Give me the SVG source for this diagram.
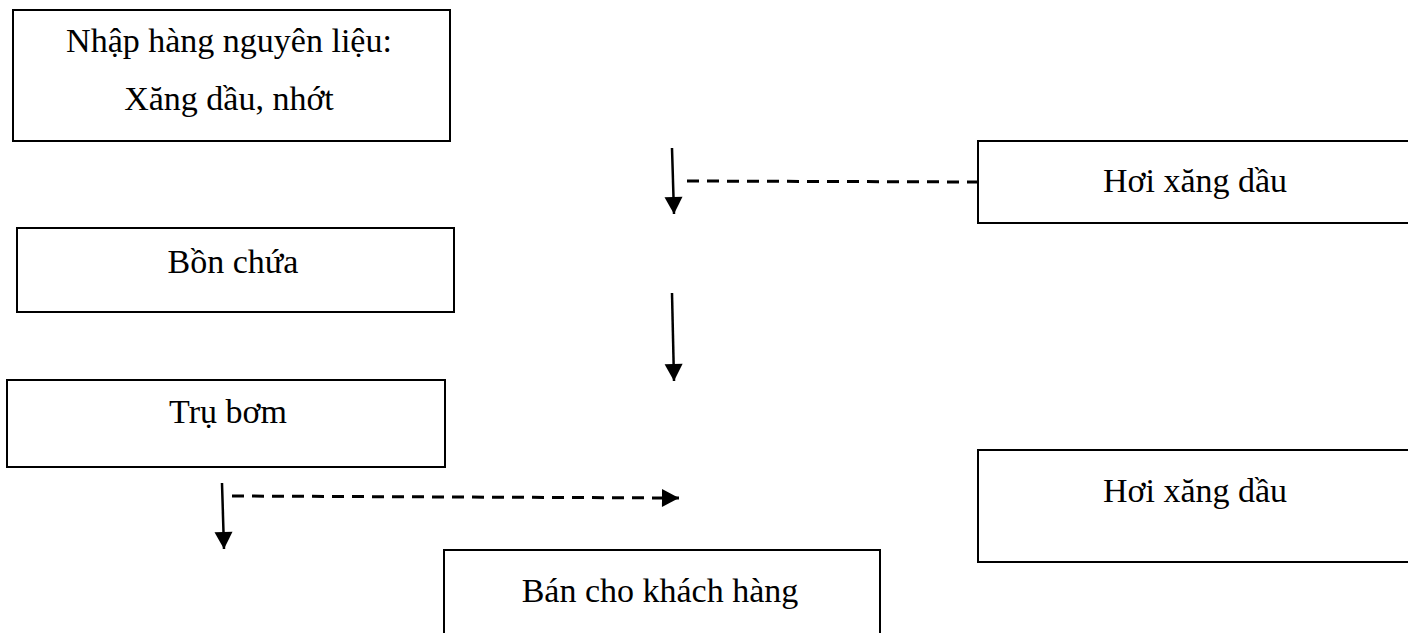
<svg xmlns="http://www.w3.org/2000/svg" width="1408" height="633" viewBox="0 0 1408 633">
<style>
.box{fill:#fff;stroke:#000;stroke-width:2}
.t{font-family:"Liberation Serif","Times New Roman",serif;font-size:34px;fill:#000;text-anchor:middle}
.solid{stroke:#000;stroke-width:2.5;fill:none}
.dash{stroke:#000;stroke-width:3;fill:none;stroke-dasharray:12 8}
</style>
<defs>
<marker id="ah" markerWidth="22" markerHeight="22" refX="17" refY="10" orient="auto" markerUnits="userSpaceOnUse" overflow="visible">
<path d="M0,1 L17,10 L0,19 Z" fill="#000"/>
</marker>
</defs>
<rect width="1408" height="633" fill="#fff"/>
<g id="n1">
<rect class="box" x="13" y="10" width="437" height="131"/>
<text class="t" x="229" y="52">Nhập hàng nguyên liệu:</text>
<text class="t" x="229" y="110">Xăng dầu, nhớt</text>
</g>
<g id="n2">
<rect class="box" x="978" y="141" width="440" height="82"/>
<text class="t" x="1195" y="192">Hơi xăng dầu</text>
</g>
<g id="n3">
<rect class="box" x="17" y="228" width="437" height="84"/>
<text class="t" x="233" y="273">Bồn chứa</text>
</g>
<g id="n4">
<rect class="box" x="7" y="380" width="438" height="87"/>
<text class="t" x="228" y="423">Trụ bơm</text>
</g>
<g id="n5">
<rect class="box" x="978" y="450" width="440" height="112"/>
<text class="t" x="1195" y="502">Hơi xăng dầu</text>
</g>
<g id="n6">
<rect class="box" x="444" y="550" width="436" height="100"/>
<text class="t" x="660" y="602">Bán cho khách hàng</text>
</g>
<g id="connectors">
<line class="solid" x1="672" y1="148" x2="674" y2="214" marker-end="url(#ah)"/>
<line class="dash" x1="687" y1="181" x2="978" y2="182"/>
<line class="solid" x1="672" y1="293" x2="674" y2="381" marker-end="url(#ah)"/>
<line class="solid" x1="222" y1="483" x2="224" y2="549" marker-end="url(#ah)"/>
<line class="dash" x1="232" y1="496" x2="679" y2="498" marker-end="url(#ah)"/>
</g>
</svg>
